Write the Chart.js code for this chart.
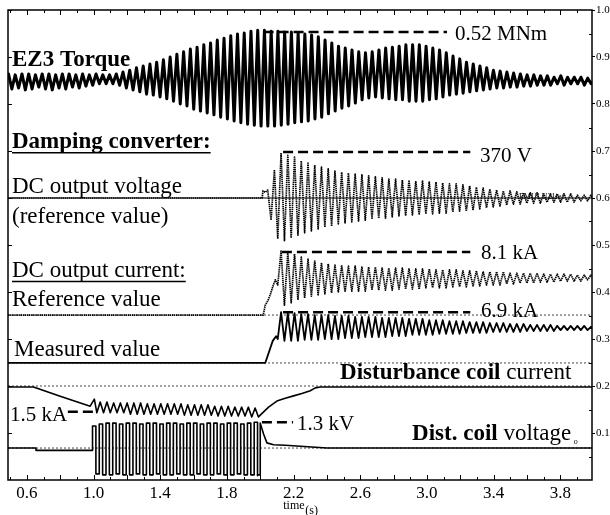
<!DOCTYPE html>
<html>
<head>
<meta charset="utf-8">
<script src="https://cdn.jsdelivr.net/npm/chart.js"></script>
<style>
  html, body { margin: 0; padding: 0; background: #fff; }
  canvas { display: block; }
</style>
</head>
<body>
<canvas id="chart" width="610" height="515"></canvas>
<script>
// axis range (time in s, right axis normalised 0..1)
const X_MIN = 0.487, X_MAX = 3.99;
const xTicks = [0.6, 1.0, 1.4, 1.8, 2.2, 2.6, 3.0, 3.4, 3.8];
const xMinorTicks = [0.5, 0.6, 0.7, 0.8, 0.9, 1.0, 1.1, 1.2, 1.3, 1.4, 1.5, 1.6, 1.7, 1.8, 1.9, 2.0, 2.1, 2.2,
  2.3, 2.4, 2.5, 2.6, 2.7, 2.8, 2.9, 3.0, 3.1, 3.2, 3.3, 3.4, 3.5, 3.6, 3.7, 3.8, 3.9];
const yTicks = [0.1, 0.2, 0.3, 0.4, 0.5, 0.6, 0.7, 0.8, 0.9, 1.0];
const yMinorTicks = [0.05, 0.15, 0.25, 0.35, 0.45, 0.55, 0.65, 0.75, 0.85, 0.95];

// oscillation period (s) of the torsional mode
const PERIOD = 0.0404;

// EZ3 torque: peak / trough of every cycle, first cycle at 0.49 s
const torqueStart = 0.49;
const torqueHi = [0.864,0.862,0.864,0.864,0.862,0.864,0.864,0.862,0.864,0.864,0.862,0.864,0.862,0.864,0.862,
  0.862,0.864,
  0.868,0.872,0.877,0.881,0.885,0.889,0.894,0.900,0.906,0.911,
  0.917,0.921,0.926,0.930,0.936,0.940,0.945,0.949,0.951,0.955,
  0.957,0.957,0.955,0.955,0.953,0.953,0.951,0.949,0.947,0.943,
  0.936,0.930,0.923,0.919,0.915,0.911,0.909,0.911,0.915,0.919,
  0.921,0.923,0.926,0.926,0.926,0.923,0.919,0.915,0.909,0.902,
  0.896,0.889,0.885,0.881,0.877,0.872,0.870,0.868,0.866,0.864,
  0.862,0.862,0.860,0.860,0.857,0.860,0.857,0.857,0.857,0.855];
const torqueLo = [0.832,0.834,0.830,0.832,0.836,0.832,0.830,0.834,0.832,0.836,0.834,0.838,0.840,0.843,0.843,
  0.843,0.840,
  0.834,0.830,0.826,0.821,0.819,0.815,0.811,0.806,0.800,0.796,
  0.789,0.785,0.781,0.777,0.772,0.768,0.764,0.760,0.757,0.755,
  0.753,0.753,0.753,0.755,0.757,0.760,0.762,0.764,0.768,0.772,
  0.779,0.785,0.791,0.796,0.802,0.809,0.813,0.815,0.813,0.811,
  0.809,0.809,0.806,0.806,0.806,0.809,0.811,0.815,0.819,0.821,
  0.823,0.826,0.828,0.830,0.832,0.834,0.834,0.836,0.836,0.838,
  0.838,0.840,0.840,0.840,0.843,0.840,0.843,0.843,0.840,0.843];

// Damping converter DC output voltage (reference value)
const voltLeadT = [0.487, 2.012, 2.016, 2.030, 2.045, 2.065, 2.085, 2.105];
const voltLeadV = [0.600, 0.600, 0.615, 0.612, 0.617, 0.553, 0.660, 0.513];
const voltStart = 2.125;
const voltHi = [0.696,0.691,0.687,0.679,0.674,0.670,0.666,0.662,0.657,0.655,
  0.653,0.651,0.649,0.647,0.645,0.643,0.640,0.640,0.638,0.638,
  0.636,0.636,0.634,0.634,0.632,0.630,0.630,0.628,0.626,0.623,
  0.621,0.619,0.617,0.615,0.615,0.613,0.611,0.611,0.611,0.609,
  0.609,0.609,0.609,0.609,0.606,0.606,0.606];
const voltLo = [0.509,0.515,0.521,0.526,0.530,0.534,0.538,0.540,0.545,0.547,
  0.549,0.551,0.553,0.555,0.557,0.557,0.560,0.562,0.562,0.564,
  0.564,0.566,0.566,0.568,0.568,0.570,0.572,0.572,0.574,0.577,
  0.579,0.581,0.583,0.585,0.587,0.587,0.589,0.589,0.589,0.591,
  0.591,0.591,0.591,0.591,0.594,0.594,0.594];

// DC output current, reference value
const refLeadT = [0.487, 2.018, 2.030, 2.045, 2.060, 2.075, 2.090, 2.105];
const refLeadV = [0.351, 0.351, 0.372, 0.381, 0.394, 0.411, 0.426, 0.415];
const refStart = 2.125;
const refHi = [0.487,0.485,0.481,0.474,0.470,0.466,0.462,0.460,0.457,0.457,
  0.455,0.455,0.453,0.453,0.453,0.451,0.451,0.451,0.451,0.449,
  0.449,0.449,0.449,0.447,0.447,0.447,0.447,0.445,0.445,0.445,
  0.443,0.443,0.443,0.443,0.440,0.440,0.440,0.440,0.440,0.438,
  0.438,0.438,0.438,0.438,0.436,0.436,0.436];
const refLo = [0.372,0.377,0.383,0.387,0.391,0.394,0.396,0.398,0.400,0.400,
  0.402,0.402,0.402,0.404,0.404,0.404,0.404,0.406,0.406,0.406,
  0.406,0.409,0.409,0.409,0.409,0.411,0.411,0.411,0.413,0.413,
  0.415,0.415,0.415,0.417,0.417,0.419,0.419,0.419,0.421,0.421,
  0.421,0.423,0.423,0.423,0.423,0.426,0.426];

// DC output current, measured value
const measLeadT = [0.487, 2.030, 2.075, 2.095, 2.105];
const measLeadV = [0.249, 0.249, 0.296, 0.306, 0.300];
const measStart = 2.125;
const measHi = [0.357,0.355,0.355,0.353,0.353,0.351,0.351,0.351,0.349,0.349,
  0.349,0.347,0.347,0.347,0.347,0.345,0.345,0.345,0.345,0.343,
  0.343,0.343,0.340,0.340,0.340,0.338,0.338,0.338,0.336,0.336,
  0.336,0.334,0.334,0.334,0.332,0.332,0.332,0.330,0.330,0.330,
  0.330,0.328,0.328,0.328,0.328,0.328,0.326];
const measLo = [0.296,0.296,0.296,0.298,0.298,0.298,0.300,0.300,0.300,0.302,
  0.302,0.302,0.304,0.304,0.304,0.304,0.306,0.306,0.306,0.309,
  0.309,0.309,0.309,0.311,0.311,0.311,0.311,0.313,0.313,0.313,
  0.313,0.315,0.315,0.315,0.315,0.315,0.317,0.317,0.317,0.317,
  0.317,0.319,0.319,0.319,0.319,0.319,0.319];

// Disturbance coil current
const coilILeadT = [0.487, 0.640, 0.800, 0.980, 1.005, 1.020];
const coilILeadV = [0.198, 0.198, 0.178, 0.157, 0.172, 0.143];
const coilIStart = 1.04;
const coilIHi = [0.166,0.166,0.164,0.164,0.164,0.164,0.164,0.162,0.162,0.162,0.162,0.162,
  0.162,0.160,0.160,0.160,0.160,0.157,0.157,0.157,0.155,0.155,0.155,0.153];
const coilILo = [0.143,0.143,0.143,0.143,0.140,0.140,0.140,0.140,0.140,0.140,0.140,0.140,
  0.138,0.138,0.138,0.138,0.138,0.136,0.136,0.136,0.136,0.136,0.134,0.134];
const coilITailT = [2.000, 2.050, 2.100, 2.150, 2.200, 2.250, 2.300, 2.330, 2.360, 3.990];
const coilITailV = [0.138, 0.155, 0.168, 0.174, 0.179, 0.184, 0.190, 0.196, 0.198, 0.198];

// Disturbance coil voltage (square pulses)
const coilULeadT = [0.487, 0.640, 0.655];
const coilULeadV = [0.068, 0.068, 0.063];
const coilUStart = 0.994;
const coilUHi = [0.115,0.119,0.121,0.121,0.119,0.121,0.121,0.119,0.121,0.121,0.119,0.121,0.121,
  0.119,0.121,0.121,0.119,0.121,0.121,0.119,0.121,0.121,0.119,0.121,0.123];
const coilULo = [0.013,0.011,0.011,0.013,0.011,0.011,0.013,0.011,0.011,0.013,0.011,0.011,0.013,
  0.011,0.011,0.013,0.011,0.011,0.013,0.011,0.011,0.013,0.011,0.011,0.009];
const coilUTailT = [1.984, 1.999, 2.000, 2.020, 2.040, 2.080, 2.150, 2.400, 3.990];
const coilUTailV = [0.011, 0.011, 0.121, 0.098, 0.079, 0.075, 0.074, 0.068, 0.068];

// zero / reference levels of the traces
const zeroSolid = [0.6];
const zeroDotted = [0.351, 0.249, 0.2, 0.068];

// peak markers: [t from, t to, level]
const peakMarks = [
  [2.02, 3.12, 0.953],
  [2.137, 3.26, 0.698],
  [2.13, 3.26, 0.485],
  [2.137, 3.26, 0.357],
  [0.846, 1.008, 0.145],
  [2.01, 2.197, 0.123]
];

const SERIF = "'Liberation Serif', 'Times New Roman', serif";

// text placed in data coordinates (left end of baseline)
const texts = [
  { t: 0.511, v: 0.881, parts: [['EZ3 Torque', 'bold 23px']] },
  { t: 0.511, v: 0.706, parts: [['Damping converter:', 'bold 23px']], underline: true },
  { t: 0.511, v: 0.611, parts: [['DC output voltage', '23px']] },
  { t: 0.511, v: 0.547, parts: [['(reference value)', '23px']] },
  { t: 0.511, v: 0.432, parts: [['DC output current:', '23px']], underline: true },
  { t: 0.511, v: 0.370, parts: [['Reference value', '23px']] },
  { t: 0.523, v: 0.264, parts: [['Measured value', '23px']] },
  { t: 2.479, v: 0.215, parts: [['Disturbance coil', 'bold 23px'], [' current', '23px']] },
  { t: 2.911, v: 0.085, parts: [['Dist. coil', 'bold 23px'], [' voltage', '23px']] },
  { t: 3.168, v: 0.936, parts: [['0.52 MNm', '21px']] },
  { t: 3.318, v: 0.677, parts: [['370 V', '21px']] },
  { t: 3.324, v: 0.470, parts: [['8.1 kA', '21px']] },
  { t: 3.324, v: 0.347, parts: [['6.9 kA', '21px']] },
  { t: 0.499, v: 0.126, parts: [['1.5 kA', '21px']] },
  { t: 2.221, v: 0.106, parts: [['1.3 kV', '21px']] },
  { t: 3.552, v: 0.598, parts: [['EMULU21ref', '8px']] },
  { t: 3.880, v: 0.077, parts: [['o', '8px']] }
];

function series(ts, vs) {
  return ts.map((t, i) => ({ x: t, y: vs[i] }));
}
function oscillation(t0, hi, lo) {
  const pts = [];
  for (let k = 0; k < hi.length; k++) {
    pts.push({ x: t0 + k * PERIOD, y: hi[k] });
    if (k < lo.length) pts.push({ x: t0 + k * PERIOD + PERIOD / 2, y: lo[k] });
  }
  return pts;
}
function line(data, extra) {
  return Object.assign({
    data, borderColor: '#000', borderWidth: 1.5, pointRadius: 0, tension: 0, fill: false,
    borderJoinStyle: 'round', borderCapStyle: 'round'
  }, extra || {});
}

const dotted = { borderWidth: 1.7, borderDash: [1.4, 0.7], borderColor: '#000', borderCapStyle: 'butt' };
const datasets = [
  line(oscillation(torqueStart, torqueHi, torqueLo), { borderWidth: 3 }),
  line(series(voltLeadT, voltLeadV).concat(oscillation(voltStart, voltHi, voltLo)), dotted),
  line(series(refLeadT, refLeadV).concat(oscillation(refStart, refHi, refLo)), dotted),
  line(series(measLeadT, measLeadV).concat(oscillation(measStart, measHi, measLo)), { borderWidth: 1.8 }),
  line(series(coilILeadT, coilILeadV).concat(oscillation(coilIStart, coilIHi, coilILo), series(coilITailT, coilITailV)), { borderWidth: 1.6 }),
  line(series(coilULeadT, coilULeadV).concat(oscillation(coilUStart, coilUHi, coilULo)), { borderWidth: 1.6, stepped: 'before' }),
  line(series(coilUTailT, coilUTailV), { borderWidth: 1.6 })
];
peakMarks.forEach(m => datasets.push(line([{ x: m[0], y: m[2] }, { x: m[1], y: m[2] }], { borderWidth: 2.5, borderDash: [10, 5], borderCapStyle: 'butt' })));
zeroSolid.forEach(v => datasets.push(line([{ x: X_MIN, y: v }, { x: X_MAX, y: v }], { borderWidth: 1, borderCapStyle: 'butt' })));
zeroDotted.forEach(v => datasets.push(line([{ x: X_MIN, y: v }, { x: X_MAX, y: v }], { borderWidth: 1, borderDash: [2, 2], borderColor: '#444', borderCapStyle: 'butt' })));

// frame, inside ticks and all texts
const decor = {
  id: 'decor',
  afterDatasetsDraw(chart) {
    const { ctx, chartArea: a, scales: { x, y } } = chart;
    ctx.save();
    ctx.strokeStyle = '#000';
    ctx.lineWidth = 1.5;
    ctx.strokeRect(a.left, a.top, a.right - a.left, a.bottom - a.top);

    ctx.lineWidth = 1;
    ctx.beginPath();
    xMinorTicks.forEach((t, i) => {
      const px = Math.round(x.getPixelForValue(t)) + 0.5;
      const len = i % 2 === 1 ? 5 : 3;
      ctx.moveTo(px, a.bottom); ctx.lineTo(px, a.bottom - len);
      ctx.moveTo(px, a.top); ctx.lineTo(px, a.top + len);
    });
    yTicks.forEach(v => {
      const py = Math.round(y.getPixelForValue(v)) + 0.5;
      ctx.moveTo(a.left, py); ctx.lineTo(a.left + 4, py);
    });
    yMinorTicks.forEach(v => {
      const py = Math.round(y.getPixelForValue(v)) + 0.5;
      ctx.moveTo(a.right, py); ctx.lineTo(a.right - 3, py);
    });
    ctx.stroke();

    ctx.fillStyle = '#000';
    ctx.textBaseline = 'alphabetic';
    ctx.textAlign = 'left';
    texts.forEach(l => {
      const x0 = x.getPixelForValue(l.t);
      const y0 = y.getPixelForValue(l.v);
      let cx = x0;
      l.parts.forEach(([s, f]) => {
        ctx.font = f + ' ' + SERIF;
        ctx.fillText(s, cx, y0);
        cx += ctx.measureText(s).width;
      });
      if (l.underline) {
        ctx.lineWidth = 1.5;
        ctx.beginPath();
        ctx.moveTo(x0, y0 + 4.5); ctx.lineTo(cx, y0 + 4.5);
        ctx.stroke();
      }
    });

    // axis title
    const mid = x.getPixelForValue(2.27);
    ctx.font = '12px ' + SERIF;
    ctx.fillText('time', mid - 22, 509);
    ctx.fillText('(s)', mid, 514);
    ctx.restore();
  }
};

new Chart(document.getElementById('chart'), {
  type: 'line',
  data: { datasets },
  options: {
    responsive: false,
    animation: false,
    layout: { padding: { left: 8, top: 10, right: 0, bottom: 0 } },
    plugins: { legend: { display: false }, tooltip: { enabled: false } },
    scales: {
      x: {
        type: 'linear', min: X_MIN, max: X_MAX,
        grid: { display: false, drawTicks: false },
        border: { display: false },
        afterBuildTicks: s => { s.ticks = xTicks.map(v => ({ value: v })); },
        afterFit: s => { s.height = 35; },
        ticks: {
          color: '#000', padding: 3, maxRotation: 0, autoSkip: false,
          font: { family: SERIF, size: 17 },
          callback: v => v.toFixed(1)
        }
      },
      y: {
        position: 'right', min: 0, max: 1,
        grid: { display: true, drawOnChartArea: false, drawTicks: true, tickLength: 3, color: '#000', lineWidth: 1 },
        border: { display: false },
        afterBuildTicks: s => { s.ticks = yTicks.map(v => ({ value: v })); },
        afterFit: s => { s.width = 18; },
        ticks: {
          color: '#000', padding: 1, autoSkip: false,
          font: { family: SERIF, size: 11 },
          callback: v => v.toFixed(1)
        }
      }
    }
  },
  plugins: [decor]
});
</script>
</body>
</html>
